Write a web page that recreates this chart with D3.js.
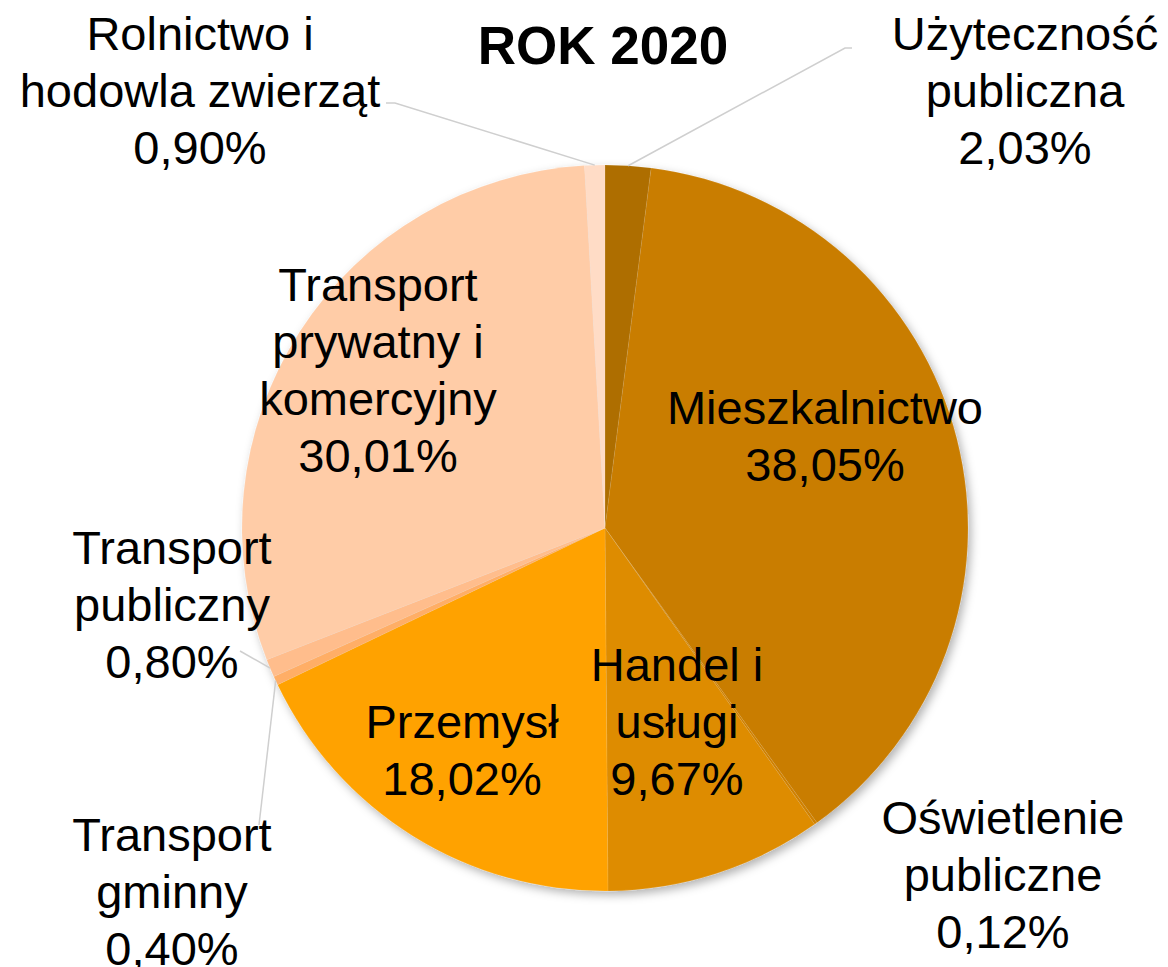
<!DOCTYPE html>
<html>
<head>
<meta charset="utf-8">
<script src="https://cdn.jsdelivr.net/npm/d3@7"></script>
<style>
  body { margin: 0; background: #fff; }
  text { font-family: Arial, "Liberation Sans", sans-serif; fill: #000; }
</style>
</head>
<body>
<div id="chart"></div>
<script>
// data
var categories = ["Użyteczność publiczna", "Mieszkalnictwo", "Oświetlenie publiczne",
    "Handel i usługi", "Przemysł", "Transport gminny", "Transport publiczny",
    "Transport prywatny i komercyjny", "Rolnictwo i hodowla zwierząt"];
var values = [2.03, 38.05, 0.12, 9.67, 18.02, 0.40, 0.80, 30.01, 0.90];
var labelLines = [
    ["Użyteczność", "publiczna"],
    ["Mieszkalnictwo"],
    ["Oświetlenie", "publiczne"],
    ["Handel i", "usługi"],
    ["Przemysł"],
    ["Transport", "gminny"],
    ["Transport", "publiczny"],
    ["Transport", "prywatny i", "komercyjny"],
    ["Rolnictwo i", "hodowla zwierząt"]
];
var colors = ["#ae6e00", "#c97d00", "#d08100", "#de8c00", "#ffa200",
    "#ffae66", "#ffbd8c", "#ffcca7", "#ffdcc6"];
var title = "ROK 2020";

// layout
var width = 1168, height = 967,
    cx = 605, cy = 528, radius = 363,
    fontSize = 47, lineH = 57;

// label block positions (center x, baseline of first line) and leader bends
var labelPos = [
    {x: 1025, y: 50, line: [[852, 48], [845, 48]]},
    {x: 825, y: 424},
    {x: 1003, y: 834},
    {x: 677, y: 681},
    {x: 462, y: 738},
    {x: 172, y: 851, line: [[259, 825]]},
    {x: 172, y: 564, line: [[240, 651]]},
    {x: 378, y: 301},
    {x: 200, y: 50, line: [[386, 103], [395, 103]]}
];

var fmt = function(v) { return v.toFixed(2).replace(".", ",") + "%"; };

var svg = d3.select("#chart").append("svg")
    .attr("width", width)
    .attr("height", height);

var defs = svg.append("defs");
var filter = defs.append("filter")
    .attr("id", "shadow")
    .attr("x", "-10%").attr("y", "-10%")
    .attr("width", "120%").attr("height", "120%");
filter.append("feDropShadow")
    .attr("dx", 3).attr("dy", 4)
    .attr("stdDeviation", 5)
    .attr("flood-color", "#000")
    .attr("flood-opacity", 0.3);

var pie = d3.pie().sort(null).value(function(d) { return d; });
var arcs = pie(values);

var arc = d3.arc().innerRadius(0).outerRadius(radius);
var edgeArc = d3.arc().innerRadius(radius).outerRadius(radius);

var g = svg.append("g")
    .attr("transform", "translate(" + cx + "," + cy + ")");

g.append("g")
    .attr("filter", "url(#shadow)")
    .selectAll("path")
    .data(arcs)
    .enter().append("path")
        .attr("d", arc)
        .attr("fill", function(d, i) { return colors[i]; })
        .attr("stroke", "rgba(255,255,255,0.15)")
        .attr("stroke-width", 0.6);

// leader lines
arcs.forEach(function(d, i) {
    var p = labelPos[i];
    if (!p.line) return;
    var c = edgeArc.centroid(d);
    var pts = p.line.concat([[c[0] + cx, c[1] + cy]]);
    svg.append("polyline")
        .attr("points", pts.map(function(q) { return q.join(","); }).join(" "))
        .attr("fill", "none")
        .attr("stroke", "#cfcfcf")
        .attr("stroke-width", 1.5);
});

// labels
arcs.forEach(function(d, i) {
    var p = labelPos[i];
    var lines = labelLines[i].concat([fmt(values[i])]);
    var t = svg.append("text")
        .attr("text-anchor", "middle")
        .style("font-size", fontSize + "px");
    lines.forEach(function(s, k) {
        t.append("tspan")
            .attr("x", p.x)
            .attr("y", p.y + k * lineH)
            .text(s);
    });
});

svg.append("text")
    .attr("x", 603)
    .attr("y", 64)
    .attr("text-anchor", "middle")
    .style("font-size", "53px")
    .style("font-weight", "bold")
    .text(title);
</script>
</body>
</html>
